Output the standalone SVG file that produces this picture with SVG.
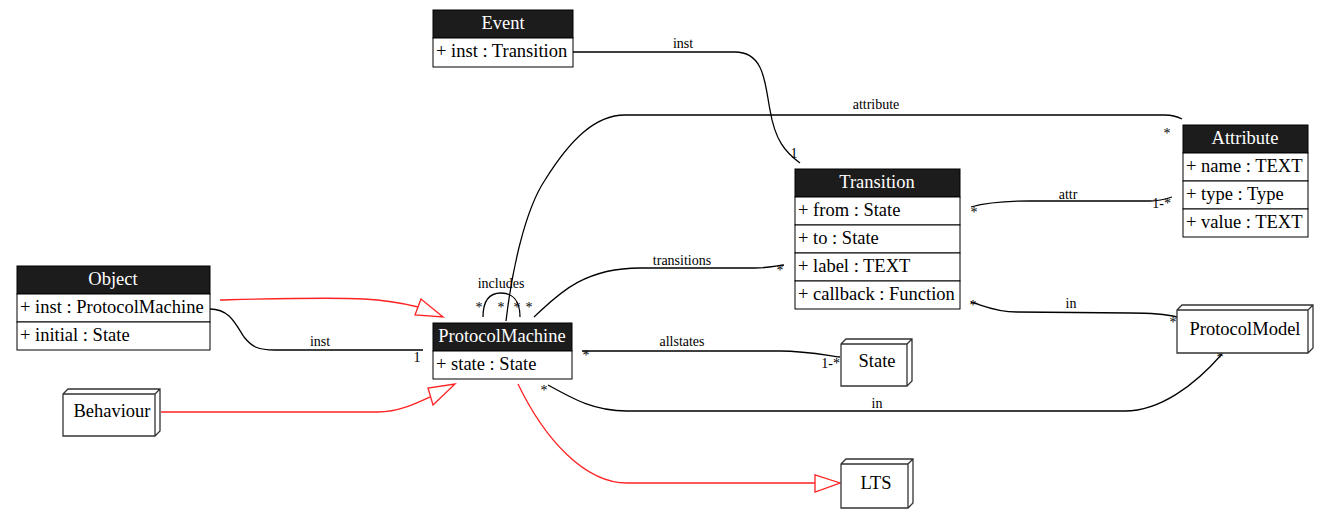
<svg xmlns="http://www.w3.org/2000/svg" width="1324" height="513" viewBox="0 0 1324 513">
<style>
.t{font-size:18.5px}
.h{font-size:18.5px;fill:#fff;text-anchor:middle}
.c{text-anchor:middle}
.l{font-size:14px}
.box{fill:#fff;stroke:#000;stroke-width:1}
.hd{fill:#1c1c1c;stroke:#000;stroke-width:1}
.b3{fill:#fff;stroke:#333;stroke-width:1.3}
.e{fill:none;stroke:#000;stroke-width:1.3}
.r{fill:none;stroke:#f22;stroke-width:1.3}
.tri{fill:#fff;stroke:#f22;stroke-width:1.3}
</style>
<rect width="1324" height="513" fill="#fff"/>
<g id="connectors">
<path class="e" d="M573,52 L735,52 C765,52 765,85 770,110 C775,140 785,152 800,163"/>
<path class="e" d="M506,321 C512,270 525,210 545,180 C570,140 595,115 625,115 L1165,115 C1172,115 1178,117 1182,119"/>
<path class="e" d="M483,317 C483,300 490,293 501,293 C512,293 520,300 520,317"/>
<path class="e" d="M534,317 C555,298 580,268 640,268 L755,268 C768,268 776,266 784,265"/>
<path class="e" d="M971,207 C985,203 1000,201 1030,201 L1150,201 C1160,201 1166,199 1172,197"/>
<path class="e" d="M1177,317 C1165,314 1145,313 1130,313 L1017,312 C995,312 982,305 971,302"/>
<path class="e" d="M210,309 C230,309 236,325 244,337 C252,347 258,350 275,350 L423,350"/>
<path class="e" d="M582,351 L780,351 C805,351 825,355 840,357"/>
<path class="e" d="M548,385 C575,400 595,411 627,411 L1125,411 C1160,411 1195,385 1222,354"/>
<path class="r" d="M220,300 C260,299 330,297 364,299 C385,300 402,303 418,307"/>
<polygon class="tri" points="421,299 415,315 443,317"/>
<path class="r" d="M161,412 L378,412 C398,412 415,404 430,397"/>
<polygon class="tri" points="428,388 433,405 455,384"/>
<path class="r" d="M518,384 C545,440 585,483 627,483 L815,483"/>
<polygon class="tri" points="815,475 815,492 840,483"/>
<text font-family="Liberation Serif" class="l c" x="683" y="48">inst</text>
<text font-family="Liberation Serif" class="l c" x="569" y="64">*</text>
<text font-family="Liberation Serif" class="l c" x="794" y="158">1</text>
<text font-family="Liberation Serif" class="l c" x="876" y="109">attribute</text>
<text font-family="Liberation Serif" class="l c" x="1167" y="138">*</text>
<text font-family="Liberation Serif" class="l c" x="501" y="288">includes</text>
<text font-family="Liberation Serif" class="l c" x="479" y="312">*</text>
<text font-family="Liberation Serif" class="l c" x="501" y="312">*</text>
<text font-family="Liberation Serif" class="l c" x="517" y="312">*</text>
<text font-family="Liberation Serif" class="l c" x="529" y="312">*</text>
<text font-family="Liberation Serif" class="l c" x="682" y="265">transitions</text>
<text font-family="Liberation Serif" class="l c" x="780" y="275">*</text>
<text font-family="Liberation Serif" class="l c" x="1068" y="199">attr</text>
<text font-family="Liberation Serif" class="l c" x="974" y="217">*</text>
<text font-family="Liberation Serif" class="l" x="1171" y="208" text-anchor="end">1-*</text>
<text font-family="Liberation Serif" class="l c" x="1071" y="308">in</text>
<text font-family="Liberation Serif" class="l c" x="973" y="310">*</text>
<text font-family="Liberation Serif" class="l c" x="1173" y="327">*</text>
<text font-family="Liberation Serif" class="l c" x="320" y="346">inst</text>
<text font-family="Liberation Serif" class="l c" x="206" y="319">*</text>
<text font-family="Liberation Serif" class="l c" x="417" y="362">1</text>
<text font-family="Liberation Serif" class="l c" x="682" y="346">allstates</text>
<text font-family="Liberation Serif" class="l c" x="586" y="360">*</text>
<text font-family="Liberation Serif" class="l" x="840" y="368" text-anchor="end">1-*</text>
<text font-family="Liberation Serif" class="l c" x="877" y="408">in</text>
<text font-family="Liberation Serif" class="l c" x="544" y="395">*</text>
<text font-family="Liberation Serif" class="l c" x="1220" y="362">*</text>
</g>
<g id="Event">
<rect class="hd" x="433" y="10" width="140" height="28"/>
<rect class="box" x="433" y="38" width="140" height="29"/>
<text font-family="Liberation Serif" class="h" x="503" y="29">Event</text>
<text font-family="Liberation Serif" class="t" x="436" y="57">+ inst : Transition</text>
</g>
<g id="Transition">
<rect class="hd" x="795" y="169" width="165" height="28"/>
<rect class="box" x="795" y="197" width="165" height="28"/>
<rect class="box" x="795" y="225" width="165" height="28"/>
<rect class="box" x="795" y="253" width="165" height="28"/>
<rect class="box" x="795" y="281" width="165" height="28"/>
<text font-family="Liberation Serif" class="h" x="877" y="188">Transition</text>
<text font-family="Liberation Serif" class="t" x="798" y="216">+ from : State</text>
<text font-family="Liberation Serif" class="t" x="798" y="244">+ to : State</text>
<text font-family="Liberation Serif" class="t" x="798" y="272">+ label : TEXT</text>
<text font-family="Liberation Serif" class="t" x="798" y="300">+ callback : Function</text>
</g>
<g id="Attribute">
<rect class="hd" x="1183" y="125" width="125" height="28"/>
<rect class="box" x="1183" y="153" width="125" height="28"/>
<rect class="box" x="1183" y="181" width="125" height="28"/>
<rect class="box" x="1183" y="209" width="125" height="28"/>
<text font-family="Liberation Serif" class="h" x="1245" y="144">Attribute</text>
<text font-family="Liberation Serif" class="t" x="1186" y="172">+ name : TEXT</text>
<text font-family="Liberation Serif" class="t" x="1186" y="200">+ type : Type</text>
<text font-family="Liberation Serif" class="t" x="1186" y="228">+ value : TEXT</text>
</g>
<g id="Object">
<rect class="hd" x="17" y="266" width="193" height="28"/>
<rect class="box" x="17" y="294" width="193" height="28"/>
<rect class="box" x="17" y="322" width="193" height="28"/>
<text font-family="Liberation Serif" class="h" x="113" y="285">Object</text>
<text font-family="Liberation Serif" class="t" x="20" y="313">+ inst : ProtocolMachine</text>
<text font-family="Liberation Serif" class="t" x="20" y="341">+ initial : State</text>
</g>
<g id="ProtocolMachine">
<rect class="hd" x="433" y="323" width="139" height="28"/>
<rect class="box" x="433" y="351" width="139" height="28"/>
<text font-family="Liberation Serif" class="h" x="502" y="342">ProtocolMachine</text>
<text font-family="Liberation Serif" class="t" x="436" y="370">+ state : State</text>
</g>
<g id="Behaviour">
<path class="b3" d="M63,394 L68,389 L160,389 L160,431 L155,436 L63,436 Z M63,394 L155,394 L155,436 M155,394 L160,389"/>
<text font-family="Liberation Serif" class="t c" x="112" y="417">Behaviour</text>
</g>
<g id="State">
<path class="b3" d="M841,344 L846,339 L912,339 L912,381 L907,386 L841,386 Z M841,344 L907,344 L907,386 M907,344 L912,339"/>
<text font-family="Liberation Serif" class="t c" x="877" y="367">State</text>
</g>
<g id="LTS">
<path class="b3" d="M841,464 L846,459 L913,459 L913,503 L908,508 L841,508 Z M841,464 L908,464 L908,508 M908,464 L913,459"/>
<text font-family="Liberation Serif" class="t c" x="876" y="489">LTS</text>
</g>
<g id="ProtocolModel">
<path class="b3" d="M1177,310 L1182,305 L1313,305 L1313,348 L1308,353 L1177,353 Z M1177,310 L1308,310 L1308,353 M1308,310 L1313,305"/>
<text font-family="Liberation Serif" class="t c" x="1245" y="335">ProtocolModel</text>
</g>
</svg>
